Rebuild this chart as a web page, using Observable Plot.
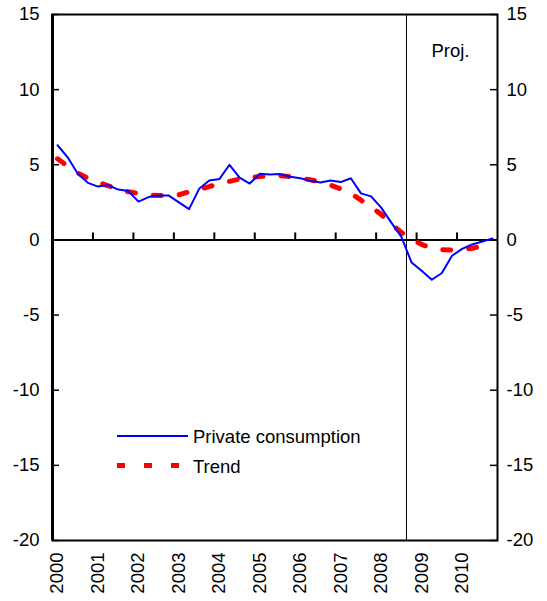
<!DOCTYPE html>
<html>
<head>
<meta charset="utf-8">
<script src="https://cdn.jsdelivr.net/npm/d3@7"></script>
<script src="https://cdn.jsdelivr.net/npm/@observablehq/plot@0.6"></script>
<style>
  body { margin: 0; background: #fff; }
  #wrap { position: relative; width: 547px; height: 601px; font-family: Arial, "Liberation Sans", sans-serif; }
  #legend { position: absolute; left: 0; top: 0; pointer-events: none; }
</style>
</head>
<body>
<div id="wrap"></div>
<script>
// ---- data (quarterly, 2000Q1 .. 2010Q4) ----
const years = [2000, 2001, 2002, 2003, 2004, 2005, 2006, 2007, 2008, 2009, 2010];
const consumption = [
  6.3, 5.5, 4.4, 3.8,
  3.55, 3.65, 3.35, 3.25,
  2.55, 2.85, 2.95, 2.95,
  2.5, 2.05, 3.4, 3.95,
  4.05, 5.0, 4.15, 3.75,
  4.4, 4.35, 4.38, 4.2,
  4.1, 3.93, 3.82, 3.95,
  3.85, 4.1, 3.1, 2.9,
  2.15, 1.15, 0.2, -1.5,
  -2.05, -2.65, -2.2, -1.05,
  -0.6, -0.3, -0.1, 0.1
];
const trend = [
  5.4, 4.9, 4.45, 4.1,
  3.85, 3.6, 3.4, 3.2,
  3.1, 3.0, 2.95, 2.95,
  3.0, 3.2, 3.35, 3.55,
  3.75, 3.9, 4.05, 4.15,
  4.22, 4.28, 4.28, 4.22,
  4.12, 4.0, 3.85, 3.65,
  3.4, 3.1, 2.65, 2.2,
  1.7, 1.05, 0.5, 0.05,
  -0.3, -0.55, -0.65, -0.67,
  -0.65, -0.55, -0.42, -0.3
];
const yTicks = [-20, -15, -10, -5, 0, 5, 10, 15];
const projStartQuarter = 35; // 2008Q4: projections start here
const seriesNames = ["Private consumption", "Trend"];
const projLabel = "Proj.";

// ---- build table ----
const nQ = consumption.length;
const rows = consumption.map((v, i) => ({ t: i + 0.5, consumption: v, trend: trend[i] }));
const yearBoundaries = years.map((y, k) => k * 4);
const yearLabelPos = years.map((y, k) => k * 4 + 0.5);
const yearOf = new Map(yearLabelPos.map((p, k) => [p, years[k]]));

const W = 547, H = 601, mL = 52, mR = 50, mT = 14, mB = 61;
const innerW = W - mL - mR;
const fs = 18.5;

const chart = Plot.plot({
  width: W, height: H,
  marginLeft: mL, marginRight: mR, marginTop: mT, marginBottom: mB,
  style: { fontFamily: "Arial, 'Liberation Sans', sans-serif", fontSize: fs + "px", color: "#000", background: "#fff" },
  x: { type: "linear", domain: [0, nQ] },
  y: { domain: [-20, 15] },
  marks: [
    Plot.axisY(yTicks, { anchor: "left", label: null, tickSize: 0, tickPadding: 13, fontSize: fs, tickFormat: d => String(d) }),
    Plot.axisY(yTicks, { anchor: "right", label: null, tickSize: 0, tickPadding: 9, fontSize: fs, tickFormat: d => String(d) }),
    Plot.axisX(yearLabelPos, { anchor: "bottom", label: null, tickSize: 0, tickPadding: 12, tickRotate: -90, fontSize: fs, tickFormat: d => String(yearOf.get(d)) }),
    // inward y ticks
    Plot.ruleY(yTicks, { y: d => d, insetRight: innerW - 7, stroke: "#000", strokeWidth: 1.5 }),
    Plot.ruleY(yTicks, { y: d => d, insetLeft: innerW - 7, stroke: "#000", strokeWidth: 1.5 }),
    // zero line and year tick marks on it
    Plot.ruleY([0], { stroke: "#000", strokeWidth: 2 }),
    Plot.ruleX(yearBoundaries.slice(1), { x: d => d, y1: 0, y2: 0, insetTop: -7, stroke: "#000", strokeWidth: 2 }),
    // projection divider
    Plot.ruleX([projStartQuarter], { stroke: "#000", strokeWidth: 1 }),
    Plot.text([projLabel], { x: projStartQuarter, frameAnchor: "top", dx: 44, dy: 29, fontSize: fs, fill: "#000" }),
    // series
    Plot.line(rows, { x: "t", y: "trend", stroke: "#ff0000", strokeWidth: 5, strokeDasharray: "8,18" }),
    Plot.line(rows, { x: "t", y: "consumption", stroke: "#0000ff", strokeWidth: 2 }),
    // frame
    Plot.frame({ stroke: "#000", strokeWidth: 2 }),
    Plot.ruleX([0], { stroke: "#000", strokeWidth: 3 })
  ]
});

const wrap = document.getElementById("wrap");
wrap.appendChild(chart);

// ---- legend overlay ----
const leg = d3.select(wrap).append("svg")
  .attr("id", "legend").attr("width", W).attr("height", H)
  .style("font-family", "Arial, 'Liberation Sans', sans-serif").style("font-size", fs + "px");
const items = [
  { name: seriesNames[0], color: "#0000ff", width: 2, dash: null, y: 436, x1: 117, x2: 188 },
  { name: seriesNames[1], color: "#ff0000", width: 5, dash: "8,19", y: 465.5, x1: 117, x2: 182 }
];
for (const it of items) {
  leg.append("line").attr("x1", it.x1).attr("x2", it.x2).attr("y1", it.y).attr("y2", it.y)
    .attr("stroke", it.color).attr("stroke-width", it.width).attr("stroke-dasharray", it.dash);
  leg.append("text").attr("x", 193).attr("y", it.y + 1).attr("dy", "0.35em").attr("fill", "#000").text(it.name);
}
</script>
</body>
</html>
